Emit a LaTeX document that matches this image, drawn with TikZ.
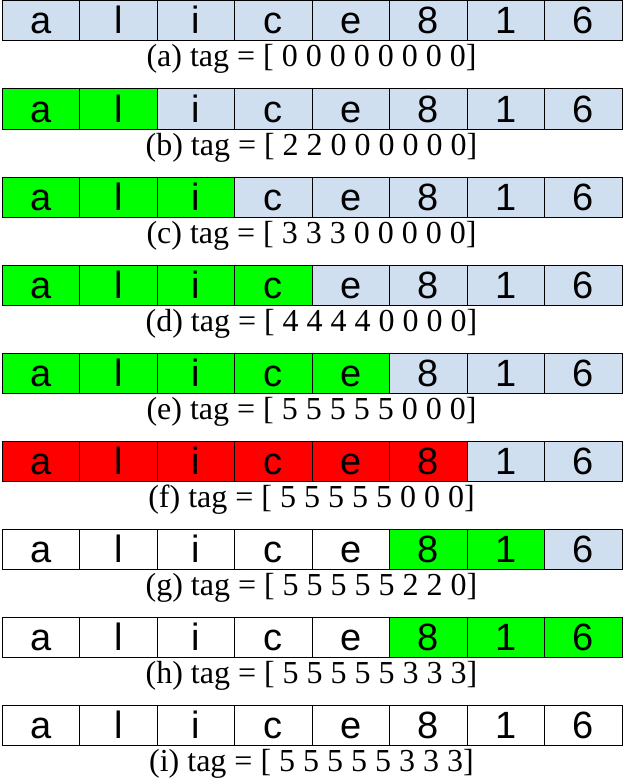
\documentclass[tikz,border=0pt]{standalone}
\usepackage{fontspec}
\setmainfont{Liberation Serif}
\newfontfamily\cellfont{Liberation Sans}

\definecolor{cellblue}{RGB}{207,223,240}
\definecolor{cellgreen}{RGB}{0,255,0}
\definecolor{cellred}{RGB}{255,0,0}

\tikzset{
  cell/.style={draw=black, line width=1pt, minimum width=77.5pt, minimum height=40pt,
    text height=29pt, text depth=3pt, inner sep=0pt,
    font=\cellfont\fontsize{38}{38}\selectfont},
  caption/.style={anchor=base, inner sep=0pt, font=\fontsize{32}{32}\selectfont}
}

\begin{document}
\begin{tikzpicture}[x=1pt,y=-1pt]
\useasboundingbox (0,0) rectangle (626,781);
% row / caption / first n1 cells in c1, up to n2 in c2, rest in c3
\foreach \r/\lab/\tags/\none/\cone/\ntwo/\ctwo/\cthree in {
  0/a/{0 0 0 0 0 0 0 0}/0/white/0/cellgreen/cellblue,
  1/b/{2 2 0 0 0 0 0 0}/0/white/2/cellgreen/cellblue,
  2/c/{3 3 3 0 0 0 0 0}/0/white/3/cellgreen/cellblue,
  3/d/{4 4 4 4 0 0 0 0}/0/white/4/cellgreen/cellblue,
  4/e/{5 5 5 5 5 0 0 0}/0/white/5/cellgreen/cellblue,
  5/f/{5 5 5 5 5 0 0 0}/0/white/6/cellred/cellblue,
  6/g/{5 5 5 5 5 2 2 0}/5/white/7/cellgreen/cellblue,
  7/h/{5 5 5 5 5 3 3 3}/5/white/8/cellgreen/cellblue,
  8/i/{5 5 5 5 5 3 3 3}/8/white/8/cellgreen/cellblue} {
  \foreach \ch [count=\i] in {a,l,i,c,e,8,1,6} {
    \ifnum\i>\ntwo \def\cf{\cthree}\else\ifnum\i>\none \def\cf{\ctwo}\else\def\cf{\cone}\fi\fi
    \node[cell, fill=\cf] (c\r-\i) at ({2+77.5*(\i-0.5)}, {21+88*\r}) {\ch};
  }
  \node[caption] (tag\r) at (311.5, {67+88*\r}) {(\lab) tag = [ \tags]};
}
\end{tikzpicture}
\end{document}
